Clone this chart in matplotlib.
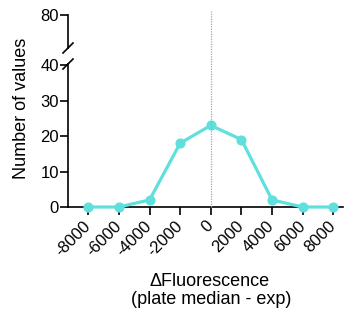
import matplotlib
matplotlib.use("Agg")
import matplotlib.pyplot as plt
from matplotlib.lines import Line2D

plt.rcParams['font.family'] = ['Liberation Sans', 'DejaVu Sans']

x_values = [-8000, -6000, -4000, -2000, 0, 2000, 4000, 6000, 8000]
counts = [0, 0, 2, 18, 23, 19, 2, 0, 0]
x_tick_labels = ["-8000", "-6000", "-4000", "-2000", "0", "2000", "4000", "6000", "8000"]
y_ticks_low = [0, 10, 20, 30, 40]
y_ticks_high = [80]

W, H = 344, 320
fig = plt.figure(figsize=(W / 100, H / 100), dpi=100)

def frac_box(x0, x1, ytop, ybot):
    return [x0 / W, 1 - ybot / H, (x1 - x0) / W, (ybot - ytop) / H]

x_left_px, x_right_px = 68, 343
xlim = (-9327, 8634)
color = "#5FE0DD"
lw_spine = 1.2
fs = 13
fs_tick = 12

ax = fig.add_axes(frac_box(x_left_px, x_right_px, 64, 207))
axt = fig.add_axes(frac_box(x_left_px, x_right_px, 12, 48))

ax.plot(x_values, counts, color=color, lw=2.3, marker='o', ms=6.3,
        clip_on=False, zorder=5)

ax.set_xlim(*xlim)
axt.set_xlim(*xlim)
ax.set_ylim(0, 40.3)
axt.set_ylim(70.7, 80.85)

for a in (ax, axt):
    a.spines['top'].set_visible(False)
    a.spines['right'].set_visible(False)
    a.spines['left'].set_linewidth(lw_spine)
    a.spines['bottom'].set_linewidth(lw_spine)
    a.tick_params(direction='out', length=5.7, width=lw_spine, labelsize=fs_tick,
                  colors='black', pad=0.7)
    a.patch.set_alpha(0)

axt.spines['bottom'].set_visible(False)
axt.spines['left'].set_bounds(70.7, 80)
axt.set_xticks([])
axt.set_yticks(y_ticks_high)
axt.set_yticklabels([str(v) for v in y_ticks_high])

ax.set_yticks(y_ticks_low)
ax.set_yticklabels([str(v) for v in y_ticks_low])
ax.set_xticks(x_values)
ax.set_xticklabels(x_tick_labels, rotation=45, ha='right', va='center',
                   rotation_mode='anchor')
ax.tick_params(axis='x', pad=6.3, length=5.7)

# vertical dotted reference line at x = 0 spanning both segments
x0_fig = ax.transData.transform((0, 0))[0] / fig.dpi / fig.get_figwidth()
fig.add_artist(Line2D([x0_fig, x0_fig], [1 - 207 / H, 1 - 11 / H],
                      color="#A8A8A8", lw=0.9, ls=(0, (1, 1)),
                      transform=fig.transFigure, zorder=1))

fig.text(210 / W, 1 - 281 / H, "ΔFluorescence", fontsize=fs,
         ha='center', va='center')
fig.text(211 / W, 1 - 299 / H, "(plate median - exp)", fontsize=fs,
         ha='center', va='center')
fig.text(22 / W, 1 - 108 / H, "Number of values", rotation=90, fontsize=fs,
         ha='center', va='center')

# break marks
for (cx, cy) in [(68, 48), (68, 64)]:
    fig.add_artist(Line2D([(cx - 5) / W, (cx + 5) / W],
                          [1 - (cy + 5) / H, 1 - (cy - 5) / H],
                          color='black', lw=lw_spine, transform=fig.transFigure))

fig.savefig("out.png", dpi=100)
